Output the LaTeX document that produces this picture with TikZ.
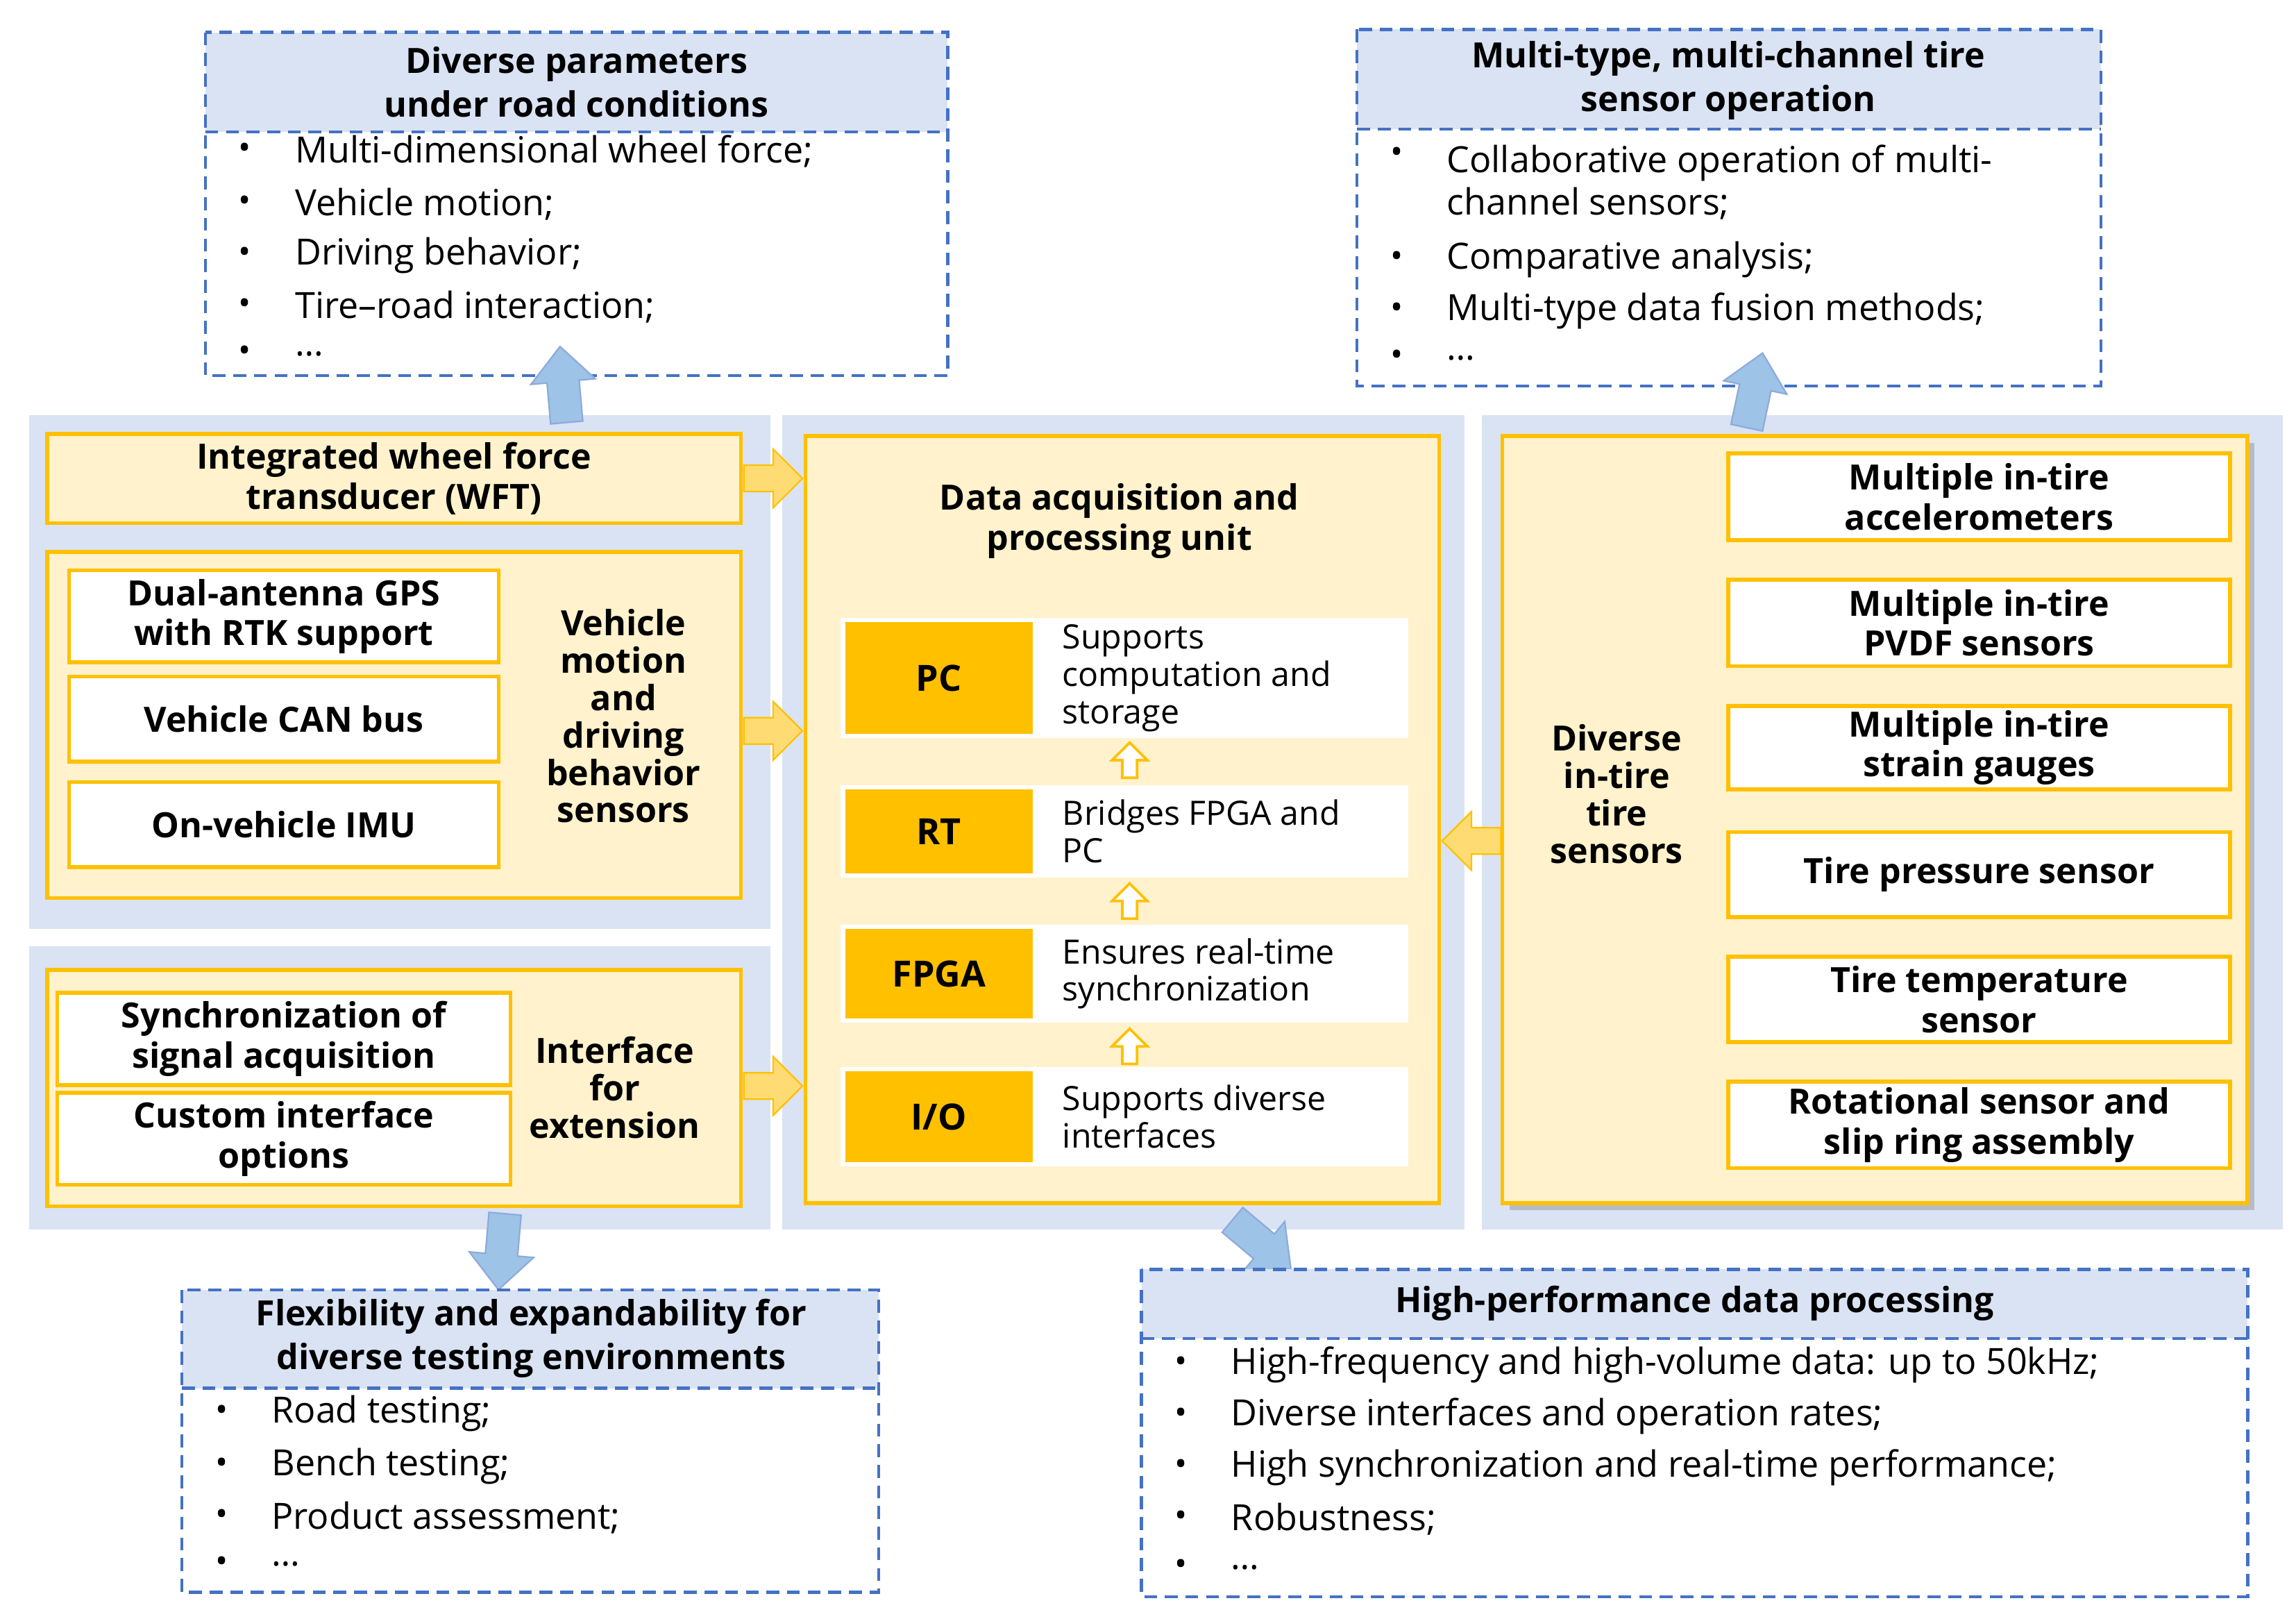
\documentclass[tikz,border=0pt]{standalone}
\usepackage{fontspec}
\setmainfont{Open Sans}
\usetikzlibrary{shadows}
\definecolor{lb}{HTML}{DAE3F3}
\definecolor{dblue}{HTML}{4472C4}
\definecolor{yel}{HTML}{FFC000}
\definecolor{ly}{HTML}{FFF2CC}
\definecolor{ablue}{HTML}{9DC3E6}
\begin{document}
\begin{tikzpicture}[x=0.02cm,y=-0.02cm,
 panel/.style={fill=lb,draw=none},
 ybox/.style={fill=ly,draw=yel,line width=1.5pt},
 wbox/.style={fill=white,draw=yel,line width=1.5pt},
 dbox/.style={draw=dblue,dash pattern=on 5pt off 3pt,line width=1.2pt},
 bt/.style={font=\fontsize{13.5}{15.5}\selectfont\bfseries,align=center},
 tt/.style={font=\fontsize{14}{16.5}\selectfont,anchor=west},
 bl/.style={font=\fontsize{13}{16}\selectfont,anchor=center},
 cell/.style={fill=yel,draw=none,font=\fontsize{14}{16}\selectfont\bfseries},
 barr/.pic={\draw[fill=ablue,draw=dblue!60,line width=0.6pt] (-26,-11)--(2,-11)--(2,-22)--(26,0)--(2,22)--(2,11)--(-26,11)--cycle;},
 yarr/.pic={\draw[fill=yel!55,draw=yel,line width=0.6pt] (-20,-9)--(0,-9)--(0,-20)--(20,0)--(0,20)--(0,9)--(-20,9)--cycle;},
 oarr/.pic={\draw[fill=white,draw=yel,line width=1pt] (-12,-5)--(0,-5)--(0,-12)--(12,0)--(0,12)--(0,5)--(-12,5)--cycle;},
]
\useasboundingbox (0,0) rectangle (1565,1103);
\fill[white] (0,0) rectangle (1565,1103);
% panels
\fill[panel] (20,283) rectangle (525,633);
\fill[panel] (20,645) rectangle (525,838);
\fill[panel] (533,283) rectangle (998,838);
\fill[panel] (1010,283) rectangle (1556,838);
% top-left dashed box
\fill[lb] (140,22) rectangle (646,90);
\draw[dbox] (140,22) rectangle (646,256);
\draw[dbox] (140,90) -- (646,90);
\node[bt,font=\fontsize{13.5}{17}\selectfont\bfseries] (t1) at (393,56) {Diverse parameters\\under road conditions};
\foreach \y/\tx [count=\i] in {103/Multi-dimensional wheel force;,139/Vehicle motion;,174/Driving behavior;,209/Tire--road interaction;,241/\dots}{
 \node[bl] (b1\i) at (167,\y) {•}; \node[tt] (l1\i) at (195,\y) {\tx};}
% top-right
\fill[lb] (925,20) rectangle (1432,88);
\draw[dbox] (925,20) rectangle (1432,263);
\draw[dbox] (925,88) -- (1432,88);
\node[bt,font=\fontsize{13.5}{17}\selectfont\bfseries] (t2) at (1178,55) {Multi-type, multi-channel tire\\sensor operation};
\node[bl] (b21) at (952,106) {•}; \node[tt,align=left] (l21) at (980,124) {Collaborative operation of multi-\\channel sensors;};
\foreach \y/\tx [count=\i from 2] in {177/Comparative analysis;,212/Multi-type data fusion methods;,244/\dots}{
 \node[bl] (b2\i) at (952,\y) {•}; \node[tt] (l2\i) at (980,\y) {\tx};}
% left boxes
\node[ybox,minimum width=9.46cm,minimum height=1.16cm,bt] (wft) at (268.5,326) {Integrated wheel force\\transducer (WFT)};
\node[ybox,minimum width=9.46cm,minimum height=4.72cm] (veh) at (268.5,494) {};
\node[wbox,minimum width=5.86cm,minimum height=1.16cm,bt] (gps) at (193.5,420) {Dual-antenna GPS\\with RTK support};
\node[wbox,minimum width=5.86cm,minimum height=1.16cm,bt] (can) at (193.5,490) {Vehicle CAN bus};
\node[wbox,minimum width=5.86cm,minimum height=1.16cm,bt] (imu) at (193.5,562) {On-vehicle IMU};
\node[bt,font=\fontsize{13.5}{14.5}\selectfont\bfseries] (vl) at (425,488) {Vehicle\\motion\\and\\driving\\behavior\\sensors};
\node[ybox,minimum width=9.46cm,minimum height=3.22cm] (itf) at (268.5,741.5) {};
\node[wbox,minimum width=6.18cm,minimum height=1.24cm,bt] (syn) at (193.5,708) {Synchronization of\\signal acquisition};
\node[wbox,minimum width=6.18cm,minimum height=1.12cm,bt] (cus) at (193.5,776) {Custom interface\\options};
\node[bt,font=\fontsize{13.5}{14.5}\selectfont\bfseries] (il) at (419,741) {Interface\\for\\extension};
% middle
\node[ybox,minimum width=8.64cm,minimum height=10.46cm] (mid) at (765,558.5) {};
\node[bt] (ml) at (763,355) {Data acquisition and\\processing unit};
\foreach \n/\tx/\ya/\yb/\dd in {pc/PC/421/503/{Supports\\computation and\\storage},rt/RT/535/598/{Bridges FPGA and\\PC},fp/FPGA/630/697/{Ensures real-time\\synchronization},io/{I/O}/727/795/{Supports diverse\\interfaces}}{
 \fill[white] (573,\ya) rectangle (960,\yb);
 \node[cell,minimum width=2.56cm,minimum height={(\yb-\ya)*0.02cm-0.12cm}] (\n) at (640,{(\ya+\yb)/2}) {\tx};
 \node[tt,align=left,font=\fontsize{13}{14.5}\selectfont] (\n d) at (718,{(\ya+\yb)/2}) {\dd};}
\pic (u1) at (770,518) [rotate=90] {oarr};
\pic (u2) at (770,614) [rotate=90] {oarr};
\pic (u3) at (770,713) [rotate=90] {oarr};
% right
\node[ybox,minimum width=10.16cm,minimum height=10.46cm,drop shadow={opacity=0.4}] (rb) at (1278,558.5) {};
\node[bt,font=\fontsize{13.5}{14.5}\selectfont\bfseries] (rl) at (1102,541) {Diverse\\in-tire\\tire\\sensors};
\foreach \n/\ya/\yb/\tx in {s1/309/368/{Multiple in-tire\\accelerometers},s2/395/454/{Multiple in-tire\\PVDF sensors},s3/481/538/{Multiple in-tire\\strain gauges},s4/567/625/{Tire pressure sensor},s5/652/710/{Tire temperature\\sensor},s6/737/796/{Rotational sensor and\\slip ring assembly}}{
 \node[wbox,bt,minimum width=6.84cm,minimum height={(\yb-\ya)*0.02cm},inner sep=1pt] (\n) at (1349,{(\ya+\yb)/2}) {\tx};}
% yellow arrows
\pic (a1) at (527,326) {yarr};
\pic (a2) at (527,498) {yarr};
\pic (a3) at (527,740) {yarr};
\pic (a4) at (1003,573) [rotate=180] {yarr};
% blue arrows
\pic (c1) at (384,262) [rotate=95] {barr};
\pic (c2) at (1196,266) [rotate=78] {barr};
\pic (c3) at (342,853) [rotate=-95] {barr};
\pic (c4) at (860,848) [rotate=-40] {barr};
% bottom-left
\fill[lb] (124,879) rectangle (599,946);
\draw[dbox] (124,879) rectangle (599,1085);
\draw[dbox] (124,946) -- (599,946);
\node[bt,font=\fontsize{13.5}{17}\selectfont\bfseries] (t3) at (362,912) {Flexibility and expandability for\\diverse testing environments};
\foreach \y/\tx [count=\i] in {963/Road testing;,999/Bench testing;,1034/Product assessment;,1066/\dots}{
 \node[bl] (b3\i) at (151,\y) {•}; \node[tt] (l3\i) at (179,\y) {\tx};}
% bottom-right
\fill[lb] (778,865) rectangle (1532,912);
\draw[dbox] (778,865) rectangle (1532,1088);
\draw[dbox] (778,912) -- (1532,912);
\node[bt] (t4) at (1155,888) {High-performance data processing};
\foreach \y/\tx [count=\i] in {930/High-frequency and high-volume data: up to 50kHz;,965/Diverse interfaces and operation rates;,1000/High synchronization and real-time performance;,1035/Robustness;,1068/\dots}{
 \node[bl] (b4\i) at (805,\y) {•}; \node[tt] (l4\i) at (833,\y) {\tx};}
\end{tikzpicture}
\end{document}
